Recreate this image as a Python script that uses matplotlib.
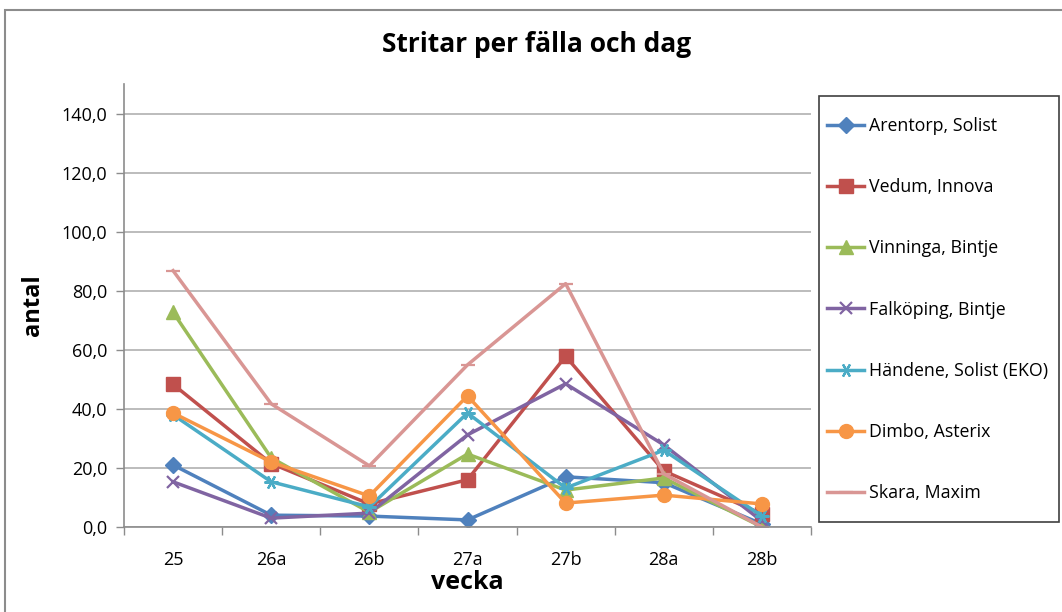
import matplotlib
matplotlib.use("Agg")
import matplotlib.pyplot as plt
from matplotlib.patches import Rectangle

weeks = ["25", "26a", "26b", "27a", "27b", "28a", "28b"]

arentorp = [21.0, 4.0, 3.7, 2.4, 17.0, 15.0, 1.0]
vedum = [48.3, 21.5, 7.8, 16.0, 57.8, 19.0, 4.4]
vinninga = [72.7, 23.4, 5.0, 24.7, 12.5, 16.6, 0.0]
falkoping = [15.3, 3.0, 4.7, 31.2, 48.5, 27.8, 2.0]
handene = [38.0, 15.3, 6.8, 38.6, 13.2, 26.0, 3.7]
dimbo = [38.6, 22.0, 10.5, 44.4, 8.1, 10.8, 7.8]
skara = [86.8, 41.7, 20.7, 54.9, 82.4, 18.0, 0.0]

series = [
    ("Arentorp, Solist", arentorp, "#4F81BD", "D", 8),
    ("Vedum, Innova", vedum, "#C0504D", "s", 10),
    ("Vinninga, Bintje", vinninga, "#9BBB59", "^", 10),
    ("Falköping, Bintje", falkoping, "#8064A2", "x", 9),
    ("Händene, Solist (EKO)", handene, "#4BACC6", (6, 2, 90), 10),
    ("Dimbo, Asterix", dimbo, "#F79646", "o", 10),
    ("Skara, Maxim", skara, "#D99694", "_", 10),
]

plt.rcParams["font.family"] = ["Open Sans", "DejaVu Sans"]

W, H = 1062, 612
fig = plt.figure(figsize=(W / 100, H / 100), dpi=100)

# chart area border
fig.patches.append(Rectangle((5 / W, -0.1), 1.2, 1.1 - 10 / H, transform=fig.transFigure,
                             fill=False, edgecolor="#8c8c8c", linewidth=1.5))

ax = fig.add_axes([124 / W, 1 - 527 / H, (811 - 124) / W, (527 - 84) / H])

x = range(len(weeks))
handles = []
for name, vals, col, mk, ms in series:
    mew = 1.6 if mk in ("x", "_") or isinstance(mk, tuple) else 1
    h, = ax.plot(x, vals, color=col, marker=mk, markersize=ms, linewidth=2.5,
                 markeredgewidth=mew, markeredgecolor=col, label=name)
    handles.append(h)

ax.set_xlim(-0.5, len(weeks) - 0.5)
ax.set_ylim(0, 150)
ax.set_yticks(range(0, 141, 20))
ax.set_yticklabels([f"{v:.1f}".replace(".", ",") for v in range(0, 141, 20)])
ax.set_xticks(list(x))
ax.set_xticklabels(weeks)
ax.set_xticks([i - 0.5 for i in range(len(weeks) + 1)], minor=True)
ax.tick_params(axis="x", which="major", length=0, pad=17, labelsize=13)
ax.tick_params(axis="x", which="minor", length=6, color="#8c8c8c", width=1)
ax.tick_params(axis="y", length=6, color="#8c8c8c", width=1, labelsize=13, pad=6)
ax.grid(axis="y", color="#b0b0b0", linewidth=1.2)
ax.set_axisbelow(True)
for s in ("top", "right"):
    ax.spines[s].set_visible(False)
for s in ("left", "bottom"):
    ax.spines[s].set_color("#8c8c8c")
    ax.spines[s].set_linewidth(1.2)

ax.set_xlabel("vecka", fontsize=18, fontweight="bold", labelpad=1)
ax.set_ylabel("antal", fontsize=17, fontweight="bold", labelpad=12)
fig.text(537 / W, 1 - 45 / H, "Stritar per fälla och dag", ha="center", va="center",
         fontsize=19, fontweight="bold")

# legend box
fig.patches.append(Rectangle((819 / W, 1 - 522 / H), 240 / W, 426 / H, transform=fig.transFigure,
                             fill=False, edgecolor="#404040", linewidth=1.2))
fig.legend(handles=handles, loc="upper left", bbox_to_anchor=(827 / W, 1 - 117 / H),
           frameon=False, fontsize=12.8, labelspacing=2.43, handlelength=2.1,
           handletextpad=0.25, borderaxespad=0, borderpad=0)

fig.savefig("out.png", dpi=100)
